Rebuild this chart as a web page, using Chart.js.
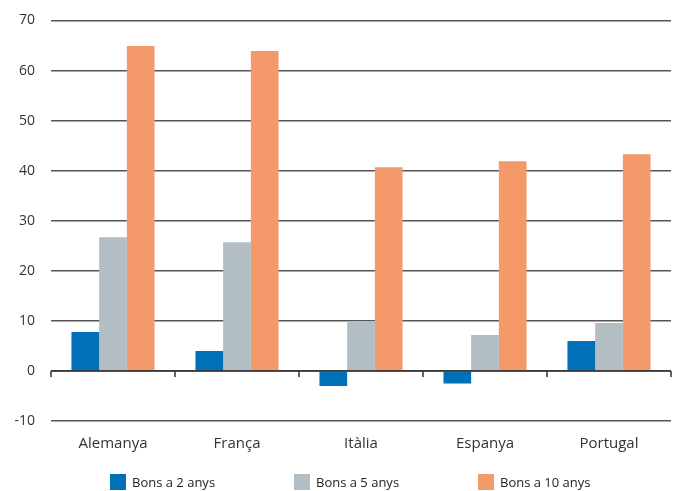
<!DOCTYPE html>
<html>
<head>
<meta charset="utf-8">
<script src="https://cdn.jsdelivr.net/npm/chart.js@4"></script>
<style>
  html, body { margin: 0; padding: 0; background: #fff; }
  #wrap { position: relative; width: 686px; height: 491px; }
  #legend { position: absolute; left: 0; top: 474px; width: 686px; height: 17px;
    font-family: "Open Sans", sans-serif; font-size: 13px; color: #222; }
  #legend span.item { position: absolute; top: 0; line-height: 16px; white-space: nowrap; }
  #legend span.box { display: inline-block; width: 16px; height: 16px; vertical-align: top; margin-right: 6px; }
</style>
</head>
<body>
<div id="wrap">
  <canvas id="chart" width="686" height="491"></canvas>
  <div id="legend"></div>
</div>
<script>
let categories = ["Alemanya", "França", "Itàlia", "Espanya", "Portugal"];
let seriesNames = ["Bons a 2 anys", "Bons a 5 anys", "Bons a 10 anys"];
let bons2 = [7.8, 4.0, -3.0, -2.5, 6.0];
let bons5 = [26.7, 25.7, 10.0, 7.2, 9.6];
let bons10 = [64.9, 63.9, 40.7, 41.9, 43.3];
let colors = ["#0070b9", "#b2bec3", "#f4996a"];

// small tick marks under the zero line at each category boundary
let zeroTicks = {
  id: "zeroTicks",
  afterDatasetsDraw(chart){
    let ctx = chart.ctx;
    let area = chart.chartArea;
    let y0 = chart.scales.y.getPixelForValue(0);
    let n = categories.length;
    let w = (area.right - area.left) / n;
    ctx.save();
    ctx.strokeStyle = "#333";
    ctx.lineWidth = 1.5;
    ctx.beginPath();
    ctx.moveTo(area.left, y0);
    ctx.lineTo(area.right, y0);
    for(let i = 0; i <= n; i++){
      let x = area.left + i * w;
      ctx.moveTo(x, y0);
      ctx.lineTo(x, y0 + 6);
    }
    ctx.stroke();
    ctx.restore();
  }
};

let chart = new Chart(document.getElementById("chart"), {
  type: "bar",
  data: {
    labels: categories,
    datasets: [
      { label: seriesNames[0], data: bons2, backgroundColor: colors[0] },
      { label: seriesNames[1], data: bons5, backgroundColor: colors[1] },
      { label: seriesNames[2], data: bons10, backgroundColor: colors[2] }
    ]
  },
  options: {
    responsive: false,
    animation: false,
    layout: { padding: { top: 20.5, right: 15, left: 0, bottom: 0 } },
    datasets: { bar: { categoryPercentage: 0.67, barPercentage: 1.0 } },
    plugins: { legend: { display: false }, tooltip: { enabled: false } },
    scales: {
      x: {
        grid: { display: false },
        border: { display: false },
        ticks: { color: "#333", padding: 6, font: { family: "Open Sans", size: 15 } },
        afterFit(s){ s.height = 70; s.paddingLeft = 0; s.paddingRight = 0; }
      },
      y: {
        min: -10,
        max: 70,
        grid: { color: "#555", lineWidth: 1.5, drawTicks: false },
        border: { display: false },
        ticks: { stepSize: 10, color: "#333", padding: 16, font: { family: "Open Sans", size: 14 } },
        afterFit(s){ s.width = 51; s.paddingTop = 0; s.paddingBottom = 0; }
      }
    }
  },
  plugins: [zeroTicks]
});

// legend built from the chart's datasets
let lx = [110, 294, 478];
document.getElementById("legend").innerHTML = chart.data.datasets.map((d, i) =>
  `<span class="item" style="left:${lx[i]}px"><span class="box" style="background:${d.backgroundColor}"></span>${d.label}</span>`
).join("");
</script>
</body>
</html>
